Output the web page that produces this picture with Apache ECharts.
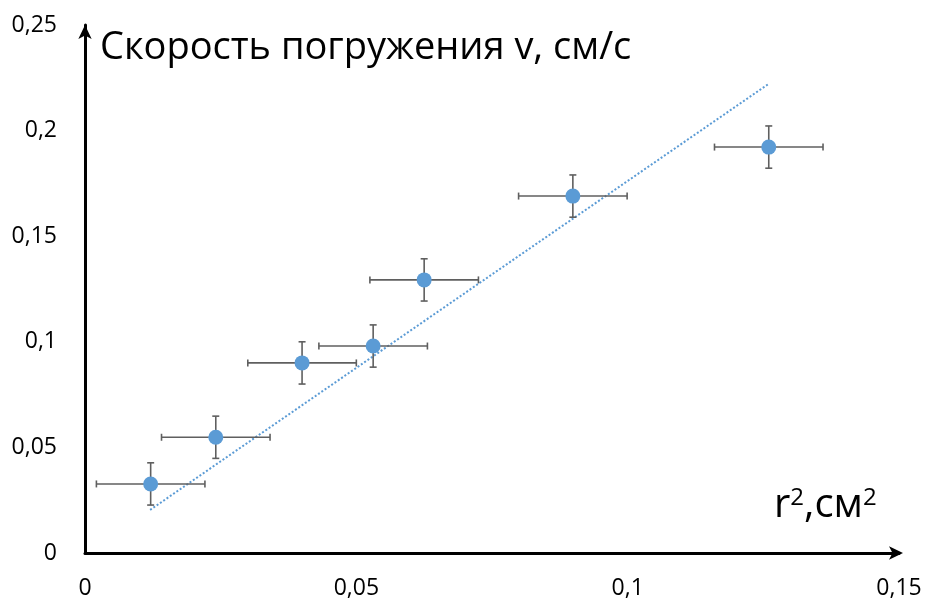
<!DOCTYPE html>
<html>
<head>
<meta charset="utf-8">
<script src="https://cdn.jsdelivr.net/npm/echarts@6/dist/echarts.min.js"></script>
<style>
  html, body { margin: 0; padding: 0; background: #fff; }
  #main { width: 928px; height: 604px; }
</style>
</head>
<body>
<div id="main"></div>
<script>
// measured points (r^2, cm^2 -> v, cm/s)
const xValues = [0.0121, 0.0241, 0.0400, 0.0531, 0.0625, 0.0899, 0.1260];
const yValues = [0.0327, 0.0548, 0.0900, 0.0980, 0.1293, 0.1690, 0.1922];
const xErr = [0.01, 0.01, 0.01, 0.01, 0.01, 0.01, 0.01];
const yErr = [0.01, 0.01, 0.01, 0.01, 0.01, 0.01, 0.01];

// trend line end points
const trendX = [0.0120, 0.1259];
const trendY = [0.0204, 0.2220];

const xTicks = [0, 0.05, 0.1, 0.15];
const yTicks = [0, 0.05, 0.1, 0.15, 0.2, 0.25];

const fontFam = '"Open Sans", "Noto Sans", sans-serif';
const fmt = v => String(v).replace('.', ',');

const chart = echarts.init(document.getElementById('main'));

const points = xValues.map((x, i) => [x, yValues[i]]);
const errData = xValues.map((x, i) => [x, yValues[i], xErr[i], yErr[i]]);

function renderErr(params, api) {
  const x = api.value(0), y = api.value(1), dx = api.value(2), dy = api.value(3);
  const l = api.coord([x - dx, y]);
  const r = api.coord([x + dx, y]);
  const t = api.coord([x, y + dy]);
  const b = api.coord([x, y - dy]);
  const cap = 3.5;
  const st = { stroke: '#5f5f5f', lineWidth: 1.6, fill: null };
  return {
    type: 'group',
    children: [
      { type: 'line', shape: { x1: l[0], y1: l[1], x2: r[0], y2: r[1] }, style: st },
      { type: 'line', shape: { x1: l[0], y1: l[1] - cap, x2: l[0], y2: l[1] + cap }, style: st },
      { type: 'line', shape: { x1: r[0], y1: r[1] - cap, x2: r[0], y2: r[1] + cap }, style: st },
      { type: 'line', shape: { x1: t[0], y1: t[1], x2: b[0], y2: b[1] }, style: st },
      { type: 'line', shape: { x1: t[0] - cap, y1: t[1], x2: t[0] + cap, y2: t[1] }, style: st },
      { type: 'line', shape: { x1: b[0] - cap, y1: b[1], x2: b[0] + cap, y2: b[1] }, style: st }
    ]
  };
}

const option = {
  backgroundColor: '#fff',
  animation: false,
  grid: { left: 85, right: 29, top: 25, bottom: 51, containLabel: false },
  xAxis: {
    type: 'value',
    min: 0, max: 0.15, interval: 0.05,
    axisLine: {
      show: true, onZero: false,
      lineStyle: { color: '#000', width: 3 },
      symbol: ['none', 'arrow'], symbolSize: [10, 14], symbolOffset: [0, 4]
    },
    axisTick: { show: false },
    splitLine: { show: false },
    axisLabel: {
      margin: 24, color: '#000', fontSize: 23, fontFamily: fontFam,
      formatter: v => xTicks.includes(+v.toFixed(2)) ? fmt(+v.toFixed(2)) : ''
    }
  },
  yAxis: {
    type: 'value',
    min: 0, max: 0.25, interval: 0.05,
    axisLine: {
      show: true, onZero: false,
      lineStyle: { color: '#000', width: 3 },
      symbol: ['none', 'arrow'], symbolSize: [10, 14], symbolOffset: [0, 0]
    },
    axisTick: { show: false },
    splitLine: { show: false },
    axisLabel: {
      margin: 28, color: '#000', fontSize: 23, fontFamily: fontFam,
      formatter: v => yTicks.includes(+v.toFixed(2)) ? fmt(+v.toFixed(2)) : ''
    }
  },
  series: [
    {
      type: 'line',
      data: trendX.map((x, i) => [x, trendY[i]]),
      symbol: 'none',
      lineStyle: { color: '#5b9bd5', width: 2, type: [2, 2] },
      z: 1
    },
    {
      type: 'custom',
      renderItem: renderErr,
      data: errData,
      z: 2
    },
    {
      type: 'scatter',
      data: points,
      symbolSize: 15,
      itemStyle: { color: '#5b9bd5', opacity: 1 },
      z: 3
    }
  ],
  graphic: [
    {
      type: 'text', left: 100, top: 29,
      style: { text: 'Скорость погружения v, см/с', fill: '#000', fontSize: 38, fontFamily: fontFam }
    },
    {
      type: 'text', left: 774, top: 486,
      style: {
        text: '{b|r}{s|2}{b|,см}{s|2}',
        rich: {
          b: { fontSize: 40, fontFamily: fontFam, fill: '#000', verticalAlign: 'bottom' },
          s: { fontSize: 24, fontFamily: fontFam, fill: '#000', verticalAlign: 'top', padding: [0, 0, 16, 0] }
        }
      }
    }
  ]
};

chart.setOption(option);
</script>
</body>
</html>
